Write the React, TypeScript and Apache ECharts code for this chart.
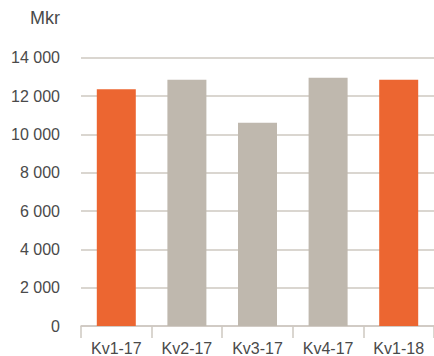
import React, { useEffect, useRef } from "react";
import * as echarts from "echarts";

const categories = ["Kv1-17", "Kv2-17", "Kv3-17", "Kv4-17", "Kv1-18"];
const values = [12350, 12850, 10600, 12950, 12850];
const highlighted = [true, false, false, false, true];
const unitLabel = "Mkr";

const ORANGE = "#EC6631";
const GRAY = "#BFB8AE";
const TEXT = "#4A4A4A";
const LINE = "#CEC8C1";

export default function App() {
  const ref = useRef<HTMLDivElement>(null);
  useEffect(() => {
    if (!ref.current) return;
    const chart = echarts.init(ref.current, undefined, { renderer: "svg" });
    chart.setOption({
      animation: false,
      textStyle: { fontFamily: "Liberation Sans, Arial, sans-serif" },
      grid: { left: 81, right: -7, top: 57.7, bottom: 26.7, containLabel: false },
      graphic: [
        {
          type: "text",
          x: 60,
          y: 18,
          style: {
            text: unitLabel,
            fill: TEXT,
            fontSize: 18,
            fontFamily: "Liberation Sans, Arial, sans-serif",
            align: "right",
            verticalAlign: "middle",
          },
        },
      ],
      xAxis: {
        type: "category",
        data: categories,
        axisLine: { show: true, lineStyle: { color: LINE, width: 1.5 } },
        axisTick: { show: true, length: 12, lineStyle: { color: LINE, width: 1.5 }, alignWithLabel: false },
        axisLabel: { color: TEXT, fontSize: 16, margin: 14 },
        splitLine: { show: false },
      },
      yAxis: {
        type: "value",
        min: 0,
        max: 14000,
        interval: 2000,
        axisLine: { show: false },
        axisTick: { show: false },
        axisLabel: {
          color: TEXT,
          fontSize: 16,
          margin: 21,
          formatter: (v: number) => String(v).replace(/\B(?=(\d{3})+(?!\d))/g, " "),
        },
        splitLine: { show: true, lineStyle: { color: LINE, width: 1.5 } },
      },
      series: [
        {
          type: "bar",
          data: values.map((v, i) => ({
            value: v,
            itemStyle: { color: highlighted[i] ? ORANGE : GRAY },
          })),
          barWidth: 39,
        },
      ],
    });
    return () => chart.dispose();
  }, []);
  return (
    <div
      ref={ref}
      style={{ position: "fixed", left: 0, top: 0, width: 434, height: 356, background: "#fff" }}
    />
  );
}
